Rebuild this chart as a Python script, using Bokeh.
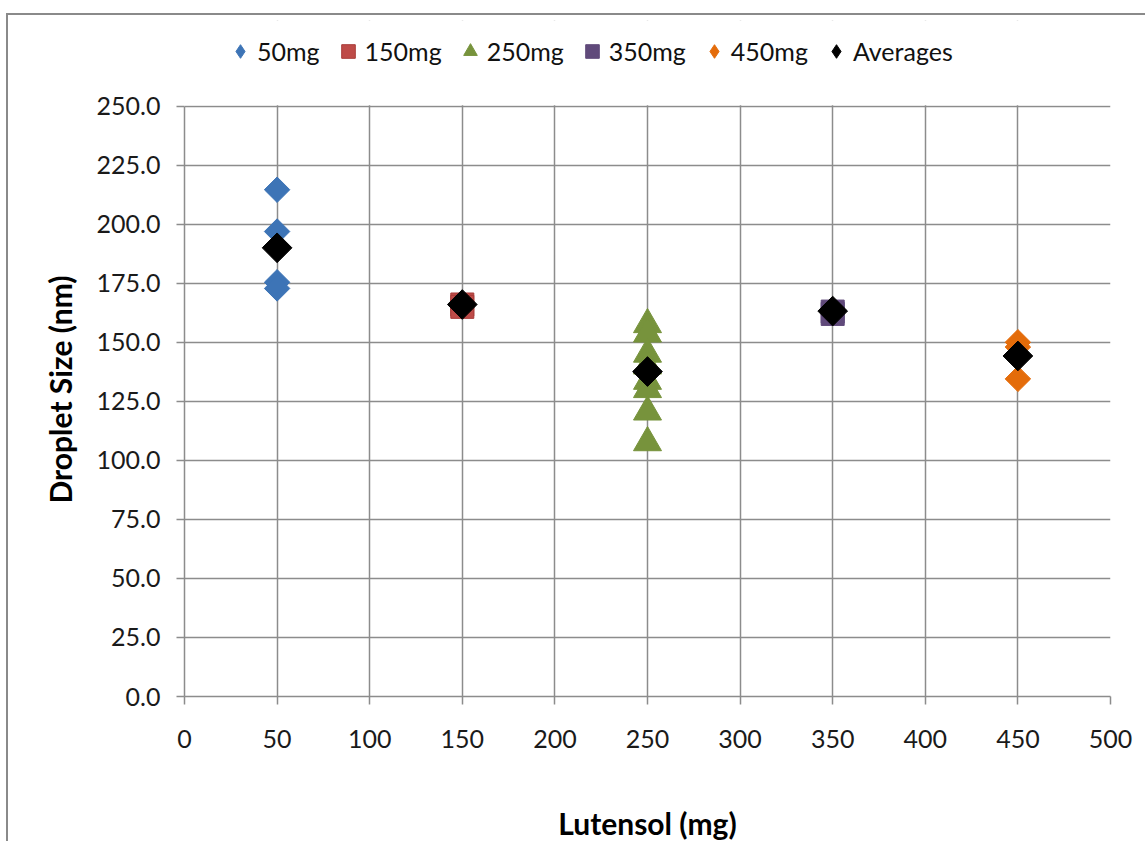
import numpy as np
from bokeh.plotting import figure
from bokeh.models import (Legend, LegendItem, FixedTicker, BoxAnnotation, Title,
                          NumeralTickFormatter, Range1d)
from bokeh.embed import file_html
from bokeh.resources import INLINE

# ---- data ----
x_50 = [50, 50, 50, 50]
y_50 = [214.6, 196.9, 175.4, 172.8]
x_150 = [150, 150]
y_150 = [166.0, 165.0]
x_250 = [250, 250, 250, 250, 250, 250, 250, 250]
y_250 = [157.5, 153.5, 145.0, 140.0, 133.5, 130.0, 120.5, 107.5]
x_350 = [350, 350]
y_350 = [163.0, 162.0]
x_450 = [450, 450, 450]
y_450 = [150.0, 148.0, 134.5]
x_avg = [50, 150, 250, 350, 450]
y_avg = [190.0, 166.0, 137.6, 163.2, 144.2]

x_ticks = [0, 50, 100, 150, 200, 250, 300, 350, 400, 450, 500]
y_ticks = [0, 25, 50, 75, 100, 125, 150, 175, 200, 225, 250]
y_max = 250

FONT = "Lato"
GRID = "#8c8c8c"

# frame extends above the y=250 line to hold the legend; 250 sits at the same pixel row
p = figure(width=1139, height=828, x_range=Range1d(0, 500), y_range=Range1d(0, 286.26),
           output_backend="svg", toolbar_location=None,
           min_border_left=176, min_border_right=37, min_border_top=5, min_border_bottom=144)
p.styles = {"margin-left": "6px", "margin-top": "13px",
            "border-left": "2px solid #8a8a8a", "border-top": "2px solid #8a8a8a"}
p.background_fill_color = "white"
p.border_fill_color = "white"
p.outline_line_color = None

# grid
p.xgrid.ticker = FixedTicker(ticks=x_ticks)
p.ygrid.ticker = FixedTicker(ticks=y_ticks)
for g in (p.xgrid, p.ygrid):
    g.grid_line_color = GRID
    g.grid_line_width = 1.5

# axes
p.xaxis.ticker = FixedTicker(ticks=x_ticks)
p.yaxis.ticker = FixedTicker(ticks=y_ticks)
p.yaxis.bounds = (0, y_max)
p.yaxis.formatter = NumeralTickFormatter(format="0.0")
for ax in (p.xaxis, p.yaxis):
    ax.axis_line_color = GRID
    ax.axis_line_width = 1.5
    ax.major_tick_line_color = GRID
    ax.major_tick_line_width = 1.5
    ax.major_tick_out = 8
    ax.major_tick_in = 0
    ax.minor_tick_line_color = None
    ax.major_label_text_font = FONT
    ax.major_label_text_font_size = "25px"
    ax.major_label_text_color = "#1a1a1a"
p.yaxis.major_label_standoff = 16
p.xaxis.major_label_standoff = 25

p.xaxis.axis_label = "Lutensol (mg)"
p.xaxis.axis_label_text_font = FONT
p.xaxis.axis_label_text_font_style = "bold"
p.xaxis.axis_label_text_font_size = "30px"
p.xaxis.axis_label_text_color = "#000000"
p.xaxis.axis_label_standoff = 54

# y title as a side-panel title so it can be placed like the reference
ytitle = Title(text="Droplet Size (nm)", align="left", offset=193, vertical_align="bottom",
               text_font=FONT, text_font_style="bold", text_font_size="30px",
               text_color="#000000", standoff=32)
p.add_layout(ytitle, "left")

# white mask over the vertical grid lines above the top of the plot area
mask = BoxAnnotation(bottom=y_max + 0.35, fill_color="white", fill_alpha=1.0,
                     line_color=None)
p.add_layout(mask)

# series
BLUE, RED, GREEN, PURPLE, ORANGE, BLACK = "#3d74b6", "#be4b48", "#77933c", "#604a7b", "#e46c0a", "#000000"
r50 = p.scatter(x_50, y_50, marker="square", angle=np.pi / 4, size=18,
                fill_color=BLUE, line_color=BLUE)
r150 = p.scatter(x_150, y_150, marker="square", size=23,
                 fill_color=RED, line_color="#a83c39")
r250 = p.scatter(x_250, y_250, marker="triangle", size=28,
                 fill_color=GREEN, line_color=GREEN)
r350 = p.scatter(x_350, y_350, marker="square", size=23,
                 fill_color=PURPLE, line_color=PURPLE)
r450 = p.scatter(x_450, y_450, marker="square", angle=np.pi / 4, size=18,
                 fill_color=ORANGE, line_color=ORANGE)
ravg = p.scatter(x_avg, y_avg, marker="square", angle=np.pi / 4, size=21,
                 fill_color=BLACK, line_color=BLACK)

# legend-only renderers (hidden) so the legend shows upright diamonds like the reference
l50 = p.scatter(x_50, y_50, marker="diamond", fill_color=BLUE, line_color=BLUE, visible=False)
l450 = p.scatter(x_450, y_450, marker="diamond", fill_color=ORANGE, line_color=ORANGE, visible=False)
lavg = p.scatter(x_avg, y_avg, marker="diamond", fill_color=BLACK, line_color=BLACK, visible=False)

legend = Legend(items=[
    LegendItem(label="50mg", renderers=[l50]),
    LegendItem(label="150mg", renderers=[r150]),
    LegendItem(label="250mg", renderers=[r250]),
    LegendItem(label="350mg", renderers=[r350]),
    LegendItem(label="450mg", renderers=[l450]),
    LegendItem(label="Averages", renderers=[lavg]),
], orientation="horizontal", location=(39, 625))
legend.border_line_color = None
legend.background_fill_alpha = 0
legend.inactive_fill_alpha = 0
legend.padding = 0
legend.margin = 0
legend.spacing = 11
legend.glyph_width = 34
legend.glyph_height = 40
legend.label_standoff = 0
legend.label_text_font = FONT
legend.label_text_font_size = "25px"
legend.label_text_color = "#111111"
p.add_layout(legend)

open("out.html", "w").write(file_html(p, INLINE))
